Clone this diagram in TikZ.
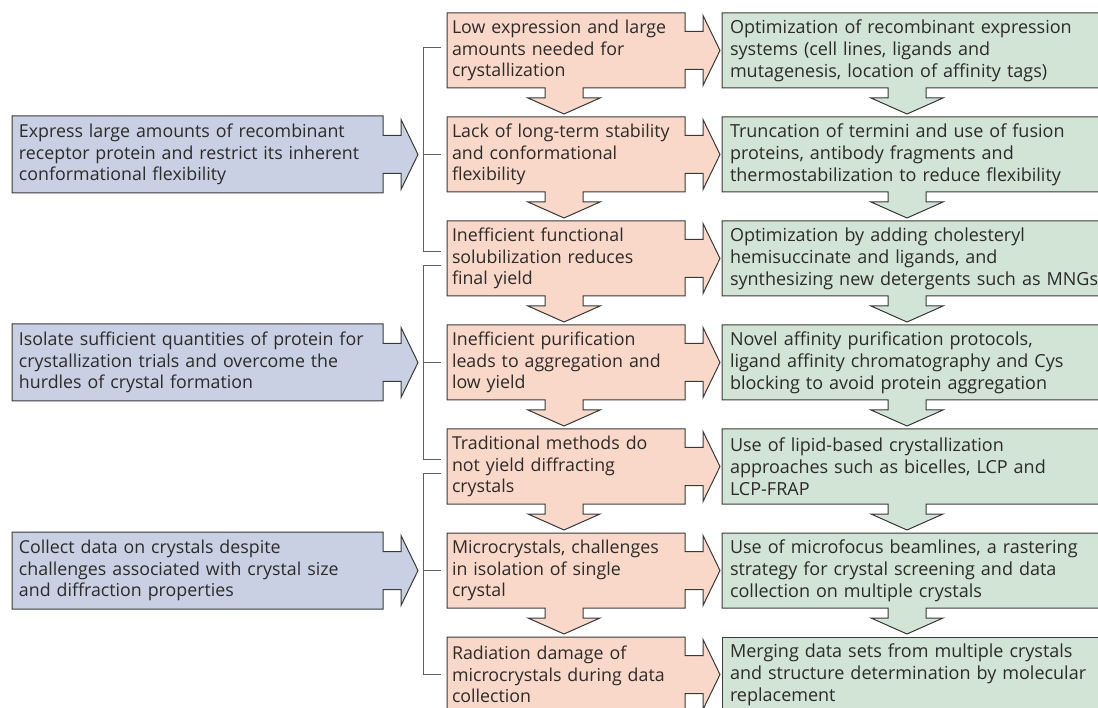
\documentclass[tikz,border=0pt]{standalone}
\usepackage{fontspec}
\setmainfont{Open Sans}
\usetikzlibrary{positioning, backgrounds}

\definecolor{probfill}{RGB}{249,216,201}
\definecolor{solfill}{RGB}{209,228,214}
\definecolor{aimfill}{RGB}{201,208,227}
\definecolor{edgegray}{RGB}{58,58,58}
\definecolor{linegray}{RGB}{95,95,95}
\definecolor{textgray}{RGB}{45,42,42}

\tikzstyle{box} = [rectangle, outer sep=0pt, inner ysep=0pt, align=left,
 text=textgray, font=\fontsize{17.8}{21.7}\selectfont]
\tikzstyle{problem} = [box, text width=228pt, inner xsep=5pt, minimum height=75pt, node distance=104pt]
\tikzstyle{solution} = [box, text width=420pt, inner xsep=8pt, minimum height=75pt,
 font=\fontsize{18}{22}\selectfont]
\tikzstyle{aim} = [box, text width=357pt, inner xsep=7pt, minimum height=77pt]
\tikzstyle{outline} = [draw=edgegray, line width=1pt, line join=miter]
\tikzstyle{bracket} = [draw=linegray, line width=1pt]

\tikzset{
  right notch/.style={insert path={
    -- ([yshift=19]#1.east) -- ([shift={(18,19)}]#1.east) -- ([shift={(18,35)}]#1.east)
    -- ([xshift=35]#1.east) -- ([shift={(18,-35)}]#1.east) -- ([shift={(18,-19)}]#1.east)
    -- ([yshift=-19]#1.east)}},
  down notch/.style 2 args={insert path={
    -- ([xshift=#2+19]#1.south west) -- ([shift={(#2+19,-10)}]#1.south west)
    -- ([shift={(#2+36,-10)}]#1.south west) -- ([shift={(#2,-26)}]#1.south west)
    -- ([shift={(#2-36,-10)}]#1.south west) -- ([shift={(#2-19,-10)}]#1.south west)
    -- ([xshift=#2-19]#1.south west)}}
}

\begin{document}
\begin{tikzpicture}[x=1pt, y=1pt]
	\path [use as bounding box] (0,0) rectangle (1098,-708);
	\clip (0,0) rectangle (1098,-708);
	
	% problems
	\node [problem] (p1) at (566,-50.5) {Low expression and large\\amounts needed for\\crystallization};
	\node [problem, below of=p1] (p2) {Lack of long-term stability\\and conformational\\flexibility};
	\node [problem, below of=p2] (p3) {Inefficient functional\\solubilization reduces\\final yield};
	\node [problem, below of=p3] (p4) {Inefficient purification\\leads to aggregation and\\low yield};
	\node [problem, below of=p4] (p5) {Traditional methods do\\not yield diffracting\\crystals};
	\node [problem, below of=p5] (p6) {Microcrystals, challenges\\in isolation of single\\crystal};
	\node [problem, below of=p6] (p7) {Radiation damage of\\microcrystals during data\\collection};
	
	% solutions
	\node [solution, right=37pt of p1] (g1) {Optimization of recombinant expression\\systems (cell lines, ligands and\\mutagenesis, location of affinity tags)};
	\node [solution, right=37pt of p2] (g2) {Truncation of termini and use of fusion\\proteins, antibody fragments and\\thermostabilization to reduce flexibility};
	\node [solution, right=37pt of p3] (g3) {Optimization by adding cholesteryl\\hemisuccinate and ligands, and\\synthesizing new detergents such as MNGs};
	\node [solution, right=37pt of p4] (g4) {Novel affinity purification protocols,\\ligand affinity chromatography and Cys\\blocking to avoid protein aggregation};
	\node [solution, right=37pt of p5] (g5) {Use of lipid-based crystallization\\approaches such as bicelles, LCP and\\LCP-FRAP};
	\node [solution, right=37pt of p6] (g6) {Use of microfocus beamlines, a rastering\\strategy for crystal screening and data\\collection on multiple crystals};
	\node [solution, right=37pt of p7] (g7) {Merging data sets from multiple crystals\\and structure determination by molecular\\replacement};
	
	% aims
	\node [aim, left=64pt of p2] (a1) {Express large amounts of recombinant\\receptor protein and restrict its inherent\\conformational flexibility};
	\node [aim, left=64pt of p4] (a2) {Isolate sufficient quantities of protein for\\crystallization trials and overcome the\\hurdles of crystal formation};
	\node [aim, left=64pt of p6] (a3) {Collect data on crystals despite\\challenges associated with crystal size\\and diffraction properties};
	
	% brackets
	\draw [bracket] ([shift={(-6,3)}]p1.west) -- ([shift={(-24,3)}]p1.west) |- ([shift={(-6,7)}]p3.west);
	\draw [bracket] ([shift={(-6,-7)}]p3.west) -- ([shift={(-24,-7)}]p3.west) |- ([shift={(-6,7)}]p5.west);
	\draw [bracket] ([shift={(-6,-7)}]p5.west) -- ([shift={(-24,-7)}]p5.west) |- ([xshift=-6]p7.west);
	\foreach \n in {p2,p4,p6}
		\draw [bracket] ([xshift=-24]\n.west) -- ([xshift=-6]\n.west);
	
	% box outlines
	\begin{scope}[on background layer]
		\clip (0,0) rectangle (1098,-708);
		\foreach \n in {p1,p2,p3,p4,p5,p6}
			\filldraw [outline, fill=probfill] (\n.north west) -- (\n.north east) [right notch=\n]
				-- (\n.south east) [down notch={\n}{117}] -- (\n.south west) -- cycle;
		\filldraw [outline, fill=probfill] (p7.north west) -- (p7.north east) [right notch=p7]
			-- (p7.south east) -- (p7.south west) -- cycle;
		\foreach \n in {g1,g2,g3,g4,g5,g6}
			\filldraw [outline, fill=solfill] (\n.north west) -- (\n.north east)
				-- (\n.south east) [down notch={\n}{185}] -- (\n.south west) -- cycle;
		\filldraw [outline, fill=solfill] (g7.north west) -- (g7.north east) -- (g7.south east) -- (g7.south west) -- cycle;
		\foreach \n in {a1,a2,a3}
			\filldraw [outline, fill=aimfill] (\n.north west) -- (\n.north east) [right notch=\n]
				-- (\n.south east) -- (\n.south west) -- cycle;
	\end{scope}
	
\end{tikzpicture}
\end{document}
